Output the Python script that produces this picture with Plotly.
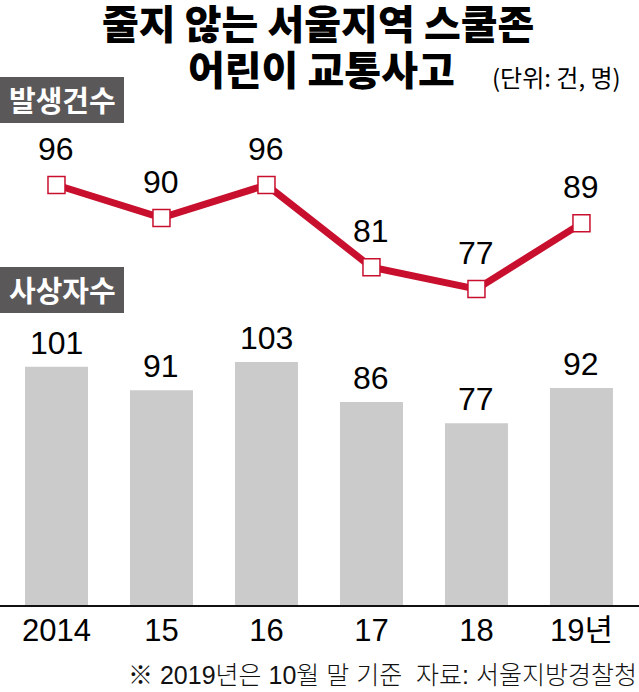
import plotly.graph_objects as go

# ---- data ----
categories = ["2014", "15", "16", "17", "18", "19년"]
incidents = [96, 90, 96, 81, 77, 89]      # 발생건수
casualties = [101, 91, 103, 86, 77, 92]   # 사상자수

title_line1 = "줄지 않는 서울지역 스쿨존"
title_line2 = "어린이 교통사고"
unit_text = "(단위: 건, 명)"
label_incidents = "발생건수"
label_casualties = "사상자수"
footnote = "※ 2019년은 10월 말 기준  자료: 서울지방경찰청"

W, H = 639, 692
RED = "#c8102e"
BAR = "#cbcbcb"
BOX = "#5b5859"
KR = "Noto Sans CJK KR"
NUM = "Liberation Sans, Noto Sans CJK KR"


def py(px):
    """pixel from top -> paper fraction"""
    return 1 - px / H


fig = go.Figure()

fig.add_trace(go.Bar(
    x=categories, y=casualties, marker=dict(color=BAR, line=dict(width=0)),
    xaxis="x", yaxis="y", hoverinfo="skip", showlegend=False,
))

fig.add_trace(go.Scatter(
    x=categories, y=incidents, mode="lines+markers",
    line=dict(color=RED, width=7),
    marker=dict(symbol="square", size=17, color="white", line=dict(color=RED, width=1.5)),
    xaxis="x", yaxis="y2", cliponaxis=False, hoverinfo="skip", showlegend=False,
))

annotations = []
for i, v in enumerate(incidents):
    annotations.append(dict(x=i, y=v, xref="x", yref="y2", text=str(v), showarrow=False,
                            yanchor="bottom", yshift=16,
                            font=dict(family=NUM, size=32, color="#000")))
for i, v in enumerate(casualties):
    annotations.append(dict(x=i, y=v, xref="x", yref="y", text=str(v), showarrow=False,
                            yanchor="bottom", yshift=4,
                            font=dict(family=NUM, size=32, color="#000")))

annotations += [
    dict(x=0.498, y=py(22), xref="paper", yref="paper", text=title_line1, showarrow=False,
         xanchor="center", yanchor="middle",
         font=dict(family=KR, size=40, color="#000", weight=900)),
    dict(x=0.503, y=py(68), xref="paper", yref="paper", text=title_line2, showarrow=False,
         xanchor="center", yanchor="middle",
         font=dict(family=KR, size=40, color="#000", weight=900)),
    dict(x=623 / W, y=py(77), xref="paper", yref="paper", text=unit_text, showarrow=False,
         xanchor="right", yanchor="middle",
         font=dict(family=KR, size=24, color="#000")),
    dict(x=62 / W, y=py(99), xref="paper", yref="paper", text=label_incidents, showarrow=False,
         xanchor="center", yanchor="middle",
         font=dict(family=KR, size=29, color="white", weight=700)),
    dict(x=62 / W, y=py(289), xref="paper", yref="paper", text=label_casualties, showarrow=False,
         xanchor="center", yanchor="middle",
         font=dict(family=KR, size=29, color="white", weight=700)),
    dict(x=639 / W, y=py(675), xref="paper", yref="paper", text=footnote, showarrow=False,
         xanchor="right", yanchor="middle",
         font=dict(family="Liberation Sans, " + KR, size=25, color="#111", weight=300)),
]

shapes = [
    dict(type="rect", xref="paper", yref="paper", x0=0, x1=124 / W, y0=py(123), y1=py(77),
         fillcolor=BOX, line=dict(width=0), layer="below"),
    dict(type="rect", xref="paper", yref="paper", x0=0, x1=124 / W, y0=py(313), y1=py(267),
         fillcolor=BOX, line=dict(width=0), layer="below"),
]

px_per_unit_bar = 2.36
bar_base, bar_top = 605, 320
line_ref_px, line_ref_v, px_per_unit_line = 185, 96, 5.48
line_bot, line_top = 300, 130

fig.update_layout(
    width=W, height=H,
    margin=dict(l=0, r=0, t=0, b=0),
    paper_bgcolor="white", plot_bgcolor="rgba(0,0,0,0)",
    bargap=0.4,
    xaxis=dict(type="category", range=[-0.538, 5.548], anchor="y",
               showline=True, linecolor="#111", linewidth=1.5,
               showgrid=False, zeroline=False, ticks="",
               tickfont=dict(family="Liberation Sans, " + KR, size=31, color="#000"),
               ticklabelstandoff=-3),
    yaxis=dict(domain=[py(bar_base), py(bar_top)],
               range=[0, (bar_base - bar_top) / px_per_unit_bar],
               visible=False, showgrid=False, zeroline=False),
    yaxis2=dict(domain=[py(line_bot), py(line_top)],
                range=[line_ref_v - (line_bot - line_ref_px) / px_per_unit_line,
                       line_ref_v + (line_ref_px - line_top) / px_per_unit_line],
                anchor="x", visible=False, showgrid=False, zeroline=False),
    annotations=annotations,
    shapes=shapes,
)

fig.write_html("out.html")
